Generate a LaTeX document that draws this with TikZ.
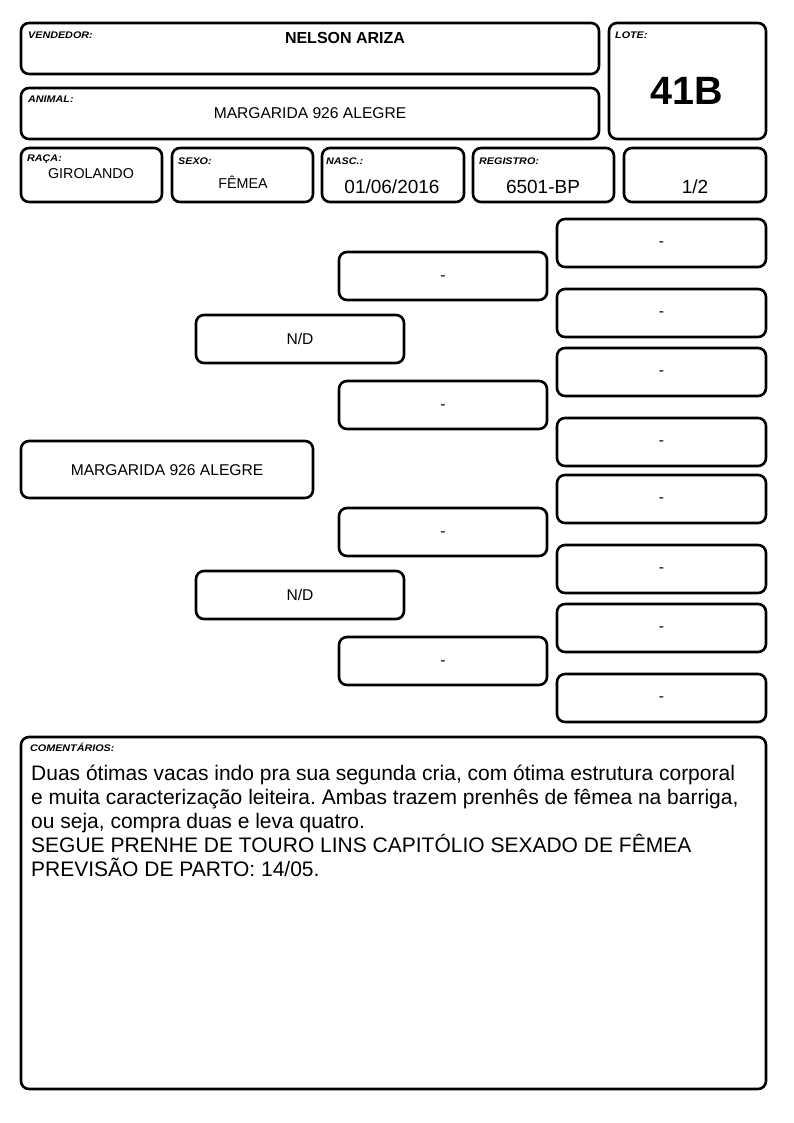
\documentclass[tikz,border=0pt]{standalone}
\usepackage{fontspec}
\usepackage{graphicx}
\setmainfont{Liberation Sans}
\frenchspacing
\newcommand\lbltxt[1]{\scalebox{1.12}[1]{#1}}
\begin{document}
\begin{tikzpicture}[x=1pt,y=-1pt,
  box/.style={draw, line width=2.6pt, rounded corners=8pt, inner sep=0pt},
  lbl/.style={anchor=base west, inner sep=0pt, font=\fontsize{9.6}{10}\selectfont\bfseries\itshape},
  val/.style={anchor=base, inner sep=0pt, font=\fontsize{15.6}{17}\selectfont},
  big/.style={anchor=base, inner sep=0pt, font=\fontsize{19}{21}\selectfont},
  ped/.style={inner sep=0pt, font=\fontsize{15.6}{17}\selectfont}]
\useasboundingbox[fill=white] (0,0) rectangle (794,1123);
\newcommand\bx[6][]{\node[box,#1,minimum width={(#5-#3)*1pt},minimum height={(#6-#4)*1pt}] (#2) at ({(#3+#5)/2},{(#4+#6)/2}) {};}
% header
\bx{vend}{21}{23}{599}{74}
\bx{lote}{609}{23}{766}{139}
\bx{anim}{21}{88}{599}{139}
\bx{raca}{21}{148}{162}{202}
\bx{sexo}{172}{148}{313}{202}
\bx{nasc}{322}{148}{464}{202}
\bx{reg}{473}{148}{614}{202}
\bx{frac}{624}{148}{766}{202}
\node[lbl] (lv) at (28,38.5) {\lbltxt{VENDEDOR:}};
\node[val, font=\fontsize{16}{18}\selectfont\bfseries] (tv) at (345,43.5) {NELSON ARIZA};
\node[lbl] (ll) at (615,38.5) {\lbltxt{LOTE:}};
\node[anchor=base, inner sep=0pt, font=\fontsize{39.5}{42}\selectfont\bfseries] (tl) at (687,105) {41B};
\node[lbl] (la) at (28,102.5) {\lbltxt{ANIMAL:}};
\node[val] (ta) at (310,119) {MARGARIDA 926 ALEGRE};
\node[lbl] (lr) at (27,161.8) {\lbltxt{RAÇA:}};
\node[val, font=\fontsize{14.3}{16}\selectfont] (tr) at (91,178.3) {GIROLANDO};
\node[lbl] (ls) at (178,165) {\lbltxt{SEXO:}};
\node[val, font=\fontsize{14.3}{16}\selectfont] (ts) at (243,188.5) {FÊMEA};
\node[lbl] (ln) at (326,165) {\lbltxt{NASC.:}};
\node[big] (tn) at (392,193.3) {01/06/2016};
\node[lbl] (lg) at (479,165) {\lbltxt{REGISTRO:}};
\node[big] (tg) at (543,193.3) {6501-BP};
\node[big] (tf) at (695,193.3) {1/2};
% pedigree
\bx{p0}{21}{441}{313}{498}
\node[ped] (p0t) at ([yshift=-1pt]p0.center) {MARGARIDA 926 ALEGRE};
\bx{p1}{196}{315}{404}{363} \node[ped] (p1t) at (p1) {N/D};
\bx{p2}{196}{571}{404}{619} \node[ped] (p2t) at (p2) {N/D};
\bx{g1}{339}{252}{547}{300} \node[ped] (g1t) at ([yshift=-2pt]g1.center) {-};
\bx{g2}{339}{381}{547}{429} \node[ped] (g2t) at ([yshift=-2pt]g2.center) {-};
\bx{g3}{339}{508}{547}{556} \node[ped] (g3t) at ([yshift=-2pt]g3.center) {-};
\bx{g4}{339}{637}{547}{685} \node[ped] (g4t) at ([yshift=-2pt]g4.center) {-};
\bx{h1}{557}{219}{766}{267} \node[ped] (h1t) at ([yshift=-1pt]h1.center) {-};
\bx{h2}{557}{289}{766}{337} \node[ped] (h2t) at ([yshift=-1pt]h2.center) {-};
\bx{h3}{557}{348}{766}{396} \node[ped] (h3t) at ([yshift=-1pt]h3.center) {-};
\bx{h4}{557}{418}{766}{466} \node[ped] (h4t) at ([yshift=-1pt]h4.center) {-};
\bx{h5}{557}{475}{766}{523} \node[ped] (h5t) at ([yshift=-1pt]h5.center) {-};
\bx{h6}{557}{545}{766}{593} \node[ped] (h6t) at ([yshift=-1pt]h6.center) {-};
\bx{h7}{557}{604}{766}{652} \node[ped] (h7t) at ([yshift=-1pt]h7.center) {-};
\bx{h8}{557}{674}{766}{722} \node[ped] (h8t) at ([yshift=-1pt]h8.center) {-};
% comments
\bx{com}{21}{737}{766}{1089}
\node[lbl] (lc) at (30,751.7) {\lbltxt{COMENTÁRIOS:}};
\node[anchor=north west, inner sep=0pt, align=left, font=\fontsize{21}{24}\selectfont] (tc) at (31,764.5)
{Duas ótimas vacas indo pra sua segunda cria, com ótima estrutura corporal\\
e muita caracterização leiteira. Ambas trazem prenhês de fêmea na barriga,\\
ou seja, compra duas e leva quatro.\\
SEGUE PRENHE DE TOURO LINS CAPITÓLIO SEXADO DE FÊMEA\\
PREVISÃO DE PARTO: 14/05.};
\end{tikzpicture}
\end{document}
